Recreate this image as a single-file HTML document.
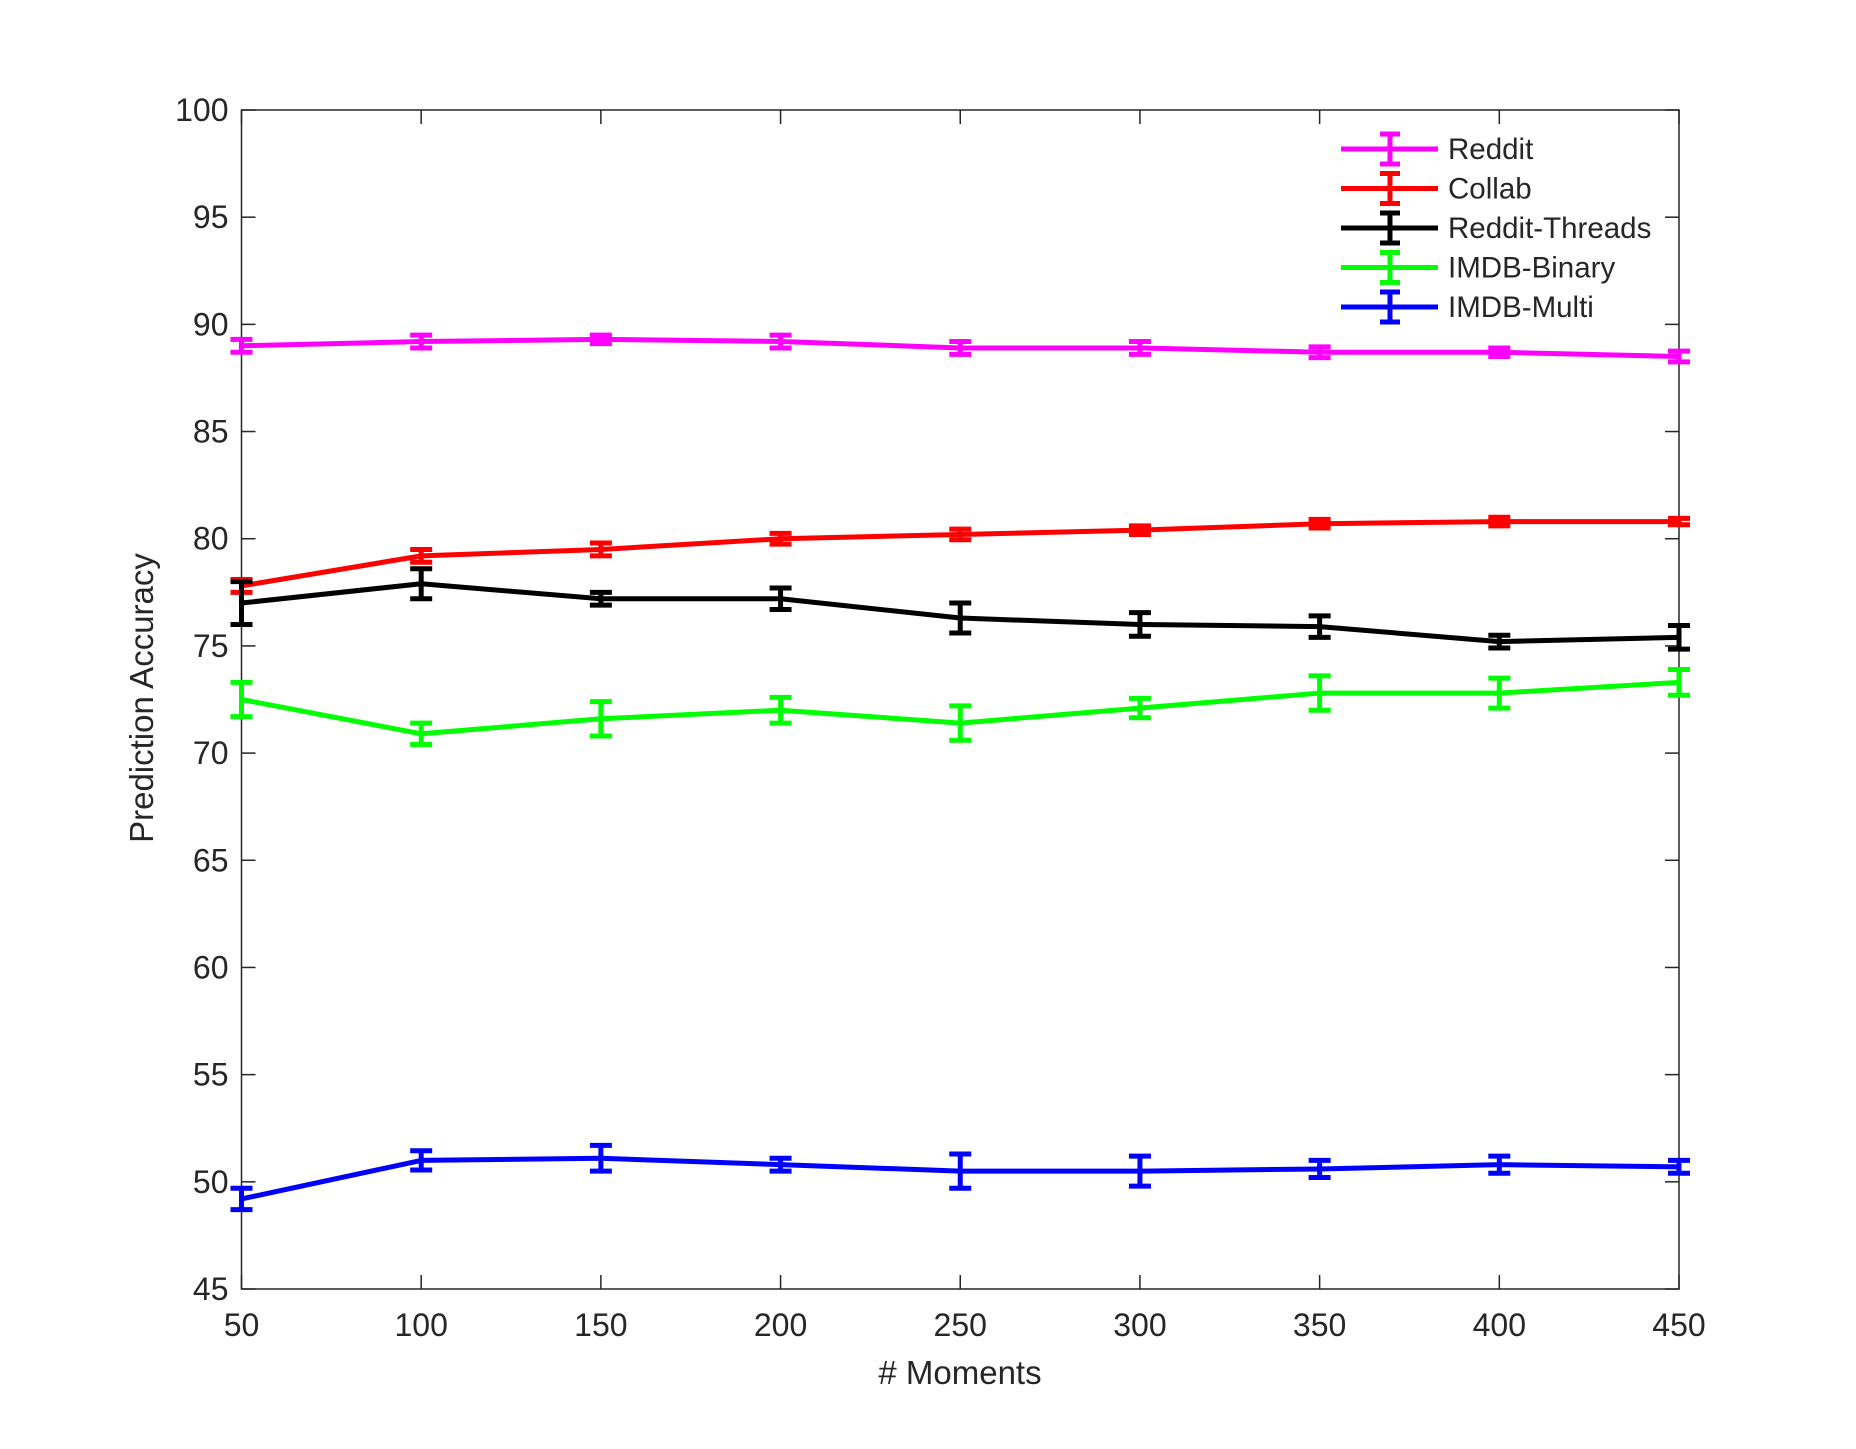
<!DOCTYPE html>
<html><head><meta charset="utf-8"><style>body{margin:0;background:#fff}svg{display:block}text{font-family:"Liberation Sans",Arial,sans-serif;fill:#262626}</style></head>
<body>
<svg id="chart" width="1856" height="1449" xmlns="http://www.w3.org/2000/svg">
<g id="axes"></g><g id="series"></g><g id="legend"></g>
</svg>
<script>
const xValues=[50,100,150,200,250,300,350,400,450];
const yTicks=[45,50,55,60,65,70,75,80,85,90,95,100];
const seriesNames=["Reddit","Collab","Reddit-Threads","IMDB-Binary","IMDB-Multi"];
const seriesColors=["#ff00ff","#ff0000","#000000","#00ff00","#0000ff"];
const redditVals=[89.0,89.2,89.3,89.2,88.9,88.9,88.7,88.7,88.5];
const redditErr=[0.3,0.3,0.2,0.3,0.3,0.3,0.25,0.2,0.25];
const collabVals=[77.8,79.2,79.5,80.0,80.2,80.4,80.7,80.8,80.8];
const collabErr=[0.3,0.3,0.3,0.25,0.25,0.2,0.2,0.2,0.15];
const threadsVals=[77.0,77.9,77.2,77.2,76.3,76.0,75.9,75.2,75.4];
const threadsErr=[1.0,0.7,0.3,0.5,0.7,0.55,0.5,0.3,0.55];
const binaryVals=[72.5,70.9,71.6,72.0,71.4,72.1,72.8,72.8,73.3];
const binaryErr=[0.8,0.5,0.8,0.6,0.8,0.45,0.8,0.7,0.6];
const multiVals=[49.2,51.0,51.1,50.8,50.5,50.5,50.6,50.8,50.7];
const multiErr=[0.5,0.45,0.6,0.3,0.8,0.7,0.4,0.4,0.3];
const allVals=[redditVals,collabVals,threadsVals,binaryVals,multiVals];
const allErr=[redditErr,collabErr,threadsErr,binaryErr,multiErr];

const L=241.5,R=1679,T=110,B=1289;
const xs=v=>L+(v-50)/400*(R-L);
const ys=v=>B-(v-45)/55*(B-T);
const NS="http://www.w3.org/2000/svg";
function mk(tag,attrs,parent){const e=document.createElementNS(NS,tag);for(const k in attrs)e.setAttribute(k,attrs[k]);parent.appendChild(e);return e;}
const ax=document.getElementById('axes');
let box=mk('rect',{x:L,y:T,width:R-L,height:B-T,fill:'none',stroke:'#262626','stroke-width':1.5},ax);


xValues.forEach(v=>{
  const x=xs(v);
  mk('line',{x1:x,x2:x,y1:B,y2:B-14,stroke:'#262626','stroke-width':1.5},ax);
  mk('line',{x1:x,x2:x,y1:T,y2:T+14,stroke:'#262626','stroke-width':1.5},ax);
  const t=mk('text',{x:x,y:B+47,'text-anchor':'middle','font-size':32},ax);t.textContent=v;
  
  
});
yTicks.forEach(v=>{
  const y=ys(v);
  mk('line',{x1:L,x2:L+14,y1:y,y2:y,stroke:'#262626','stroke-width':1.5},ax);
  mk('line',{x1:R,x2:R-14,y1:y,y2:y,stroke:'#262626','stroke-width':1.5},ax);
  const t=mk('text',{x:L-13,y:y+11,'text-anchor':'end','font-size':32},ax);t.textContent=v;
  
  
});
let xt=mk('text',{x:960,y:1384,'text-anchor':'middle','font-size':33},ax);xt.textContent='# Moments';


let yt=mk('text',{x:0,y:0,'text-anchor':'middle','font-size':33,transform:'translate(153,698) rotate(-90)'},ax);yt.textContent='Prediction Accuracy';



const sg=document.getElementById('series');
allVals.forEach((vals,si)=>{
  const c=seriesColors[si];
  const g=mk('g',{},sg);
  
  
  const pts=vals.map((v,i)=>xs(xValues[i])+','+ys(v)).join(' ');
  const pl=mk('polyline',{points:pts,fill:'none',stroke:c,'stroke-width':5,'stroke-linejoin':'round'},g);
  
  
  vals.forEach((v,i)=>{
    const x=xs(xValues[i]),e=allErr[si][i],y1=ys(v+e),y2=ys(v-e);
    const eb=mk('path',{d:`M${x},${y1}V${y2}M${x-11},${y1}H${x+11}M${x-11},${y2}H${x+11}`,stroke:c,'stroke-width':5,fill:'none'},g);
    
    
  });
});

const lg=document.getElementById('legend');
seriesNames.forEach((n,i)=>{
  const y=149+i*39.5,c=seriesColors[i];
  const g=mk('g',{},lg);
  
  
  mk('line',{x1:1341,x2:1438,y1:y,y2:y,stroke:c,'stroke-width':5},g);
  mk('path',{d:`M1390,${y-15}V${y+15}M1380,${y-15}H1400M1380,${y+15}H1400`,stroke:c,'stroke-width':5,fill:'none'},g);
  const t=mk('text',{x:1448,y:y+10,'font-size':29.5},g);t.textContent=n;
});
</script>
</body></html>
